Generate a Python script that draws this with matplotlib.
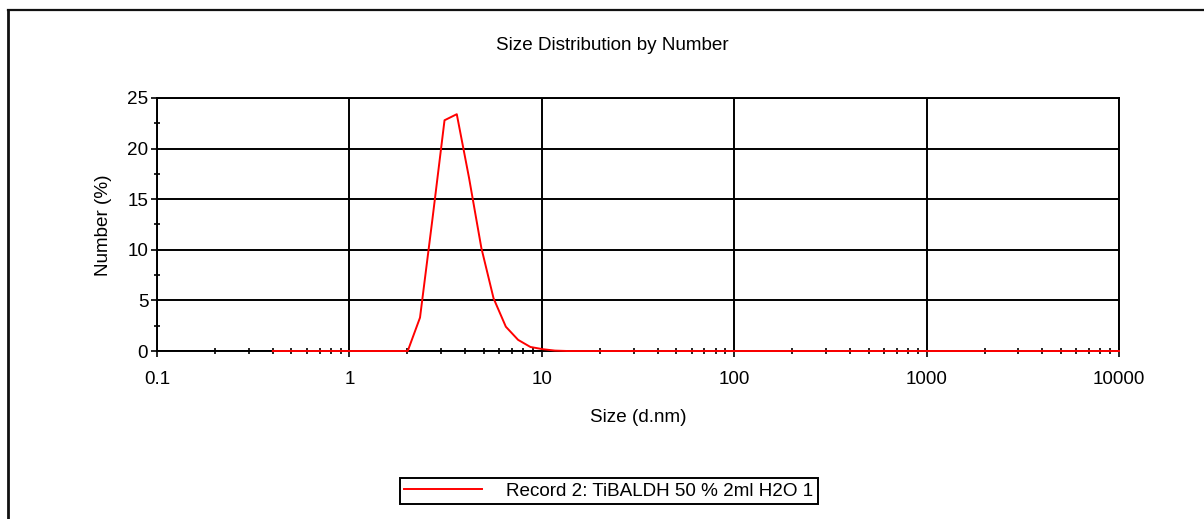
import matplotlib
matplotlib.use("Agg")
import matplotlib.pyplot as plt
from matplotlib.ticker import FixedLocator, NullFormatter
from matplotlib.lines import Line2D

plt.rcParams['font.family'] = ['Liberation Sans', 'DejaVu Sans']

# ---- data ----
size_nm = [0.4, 0.4632, 0.5365, 0.6213, 0.7195, 0.8332, 0.9649, 1.117, 1.294, 1.499,
           1.736, 2.01, 2.328, 2.696, 3.122, 3.615, 4.187, 4.849, 5.615, 6.503,
           7.531, 8.721, 10.1, 11.7, 13.54, 15.69, 18.17, 21.04, 24.36, 28.21,
           32.67, 37.84, 43.82, 50.75, 58.77, 68.06, 78.82, 91.28, 105.7, 122.4,
           141.8, 164.2, 190.1, 220.2, 255.0, 295.3, 342.0, 396.1, 458.7, 531.2,
           615.1, 712.4, 825.0, 955.4, 1106, 1281, 1484, 1718, 1990, 2305,
           2669, 3091, 3580, 4145, 4801, 5560, 6439, 7456, 8635, 10000]
number_pct = [0, 0, 0, 0, 0, 0, 0, 0, 0, 0,
              0, 0, 3.3, 12.9, 22.8, 23.4, 17.1, 10.2, 5.2, 2.4,
              1.1, 0.4, 0.18, 0.04, 0, 0, 0, 0, 0, 0,
              0, 0, 0, 0, 0, 0, 0, 0, 0, 0,
              0, 0, 0, 0, 0, 0, 0, 0, 0, 0,
              0, 0, 0, 0, 0, 0, 0, 0, 0, 0,
              0, 0, 0, 0, 0, 0, 0, 0, 0, 0]
x_ticks = [0.1, 1, 10, 100, 1000, 10000]
x_ticklabels = ['0.1', '1', '10', '100', '1000', '10000']
y_ticks = [0, 5, 10, 15, 20, 25]
title = 'Size Distribution by Number'
x_label = 'Size (d.nm)'
y_label = 'Number (%)'
legend_label = 'Record 2: TiBALDH 50 % 2ml H2O 1'

W, H = 1204, 519
fig = plt.figure(figsize=(W / 100, H / 100), dpi=100)
fs = 13.6

def fx(px):
    return px / W

def fy(py):
    return 1 - py / H

ax = fig.add_axes([fx(157), fy(351), fx(1119) - fx(157), fy(98) - fy(351)])
ax.plot(size_nm, number_pct, color='#ff0000', lw=1.4, zorder=3, clip_on=False)
ax.set_xscale('log')
ax.set_xlim(0.1, 10000)
ax.set_ylim(0, 25)

ax.xaxis.set_major_locator(FixedLocator(x_ticks))
ax.set_xticklabels(x_ticklabels)
minors = [m * 10.0 ** e for e in range(-1, 4) for m in range(2, 10)]
ax.xaxis.set_minor_locator(FixedLocator(minors))
ax.xaxis.set_minor_formatter(NullFormatter())
ax.yaxis.set_major_locator(FixedLocator(y_ticks))
ax.yaxis.set_minor_locator(FixedLocator([2.5, 7.5, 12.5, 17.5, 22.5]))

ax.grid(True, which='major', color='black', lw=1.4)
for s in ax.spines.values():
    s.set_color('black')
    s.set_linewidth(1.4)
ax.tick_params(which='major', direction='out', length=4.3, width=1.2,
               labelsize=fs, color='black')
ax.tick_params(axis='x', which='major', pad=10)
ax.tick_params(axis='y', which='major', pad=2)
ax.tick_params(which='minor', direction='inout', length=5, width=1.2, color='black')
ax.set_axisbelow(True)

fig.text(fx(612), fy(45), title, ha='center', va='center', fontsize=fs)
fig.text(fx(638), fy(417), x_label, ha='center', va='center', fontsize=fs)
fig.text(fx(103), fy(225), y_label, ha='center', va='center', rotation=90, fontsize=fs)

handle = Line2D([], [], color='#ff0000', lw=1.4)
leg = fig.legend([handle], [legend_label], loc='center',
                 bbox_to_anchor=(fx(609), fy(491)), fontsize=fs,
                 frameon=True, fancybox=False, framealpha=1, edgecolor='black',
                 handlelength=4.1, handletextpad=1.3, borderpad=0.22)
leg.get_frame().set_linewidth(1.4)

# outer border (top and left edges visible)
fig.add_artist(Line2D([fx(8), 1.0], [fy(10), fy(10)], color='#111111', lw=1.6,
                      transform=fig.transFigure))
fig.add_artist(Line2D([fx(8), fx(8)], [fy(10), 0.0], color='#111111', lw=2.0,
                      transform=fig.transFigure))

fig.savefig('out.png', dpi=100, facecolor='white')
